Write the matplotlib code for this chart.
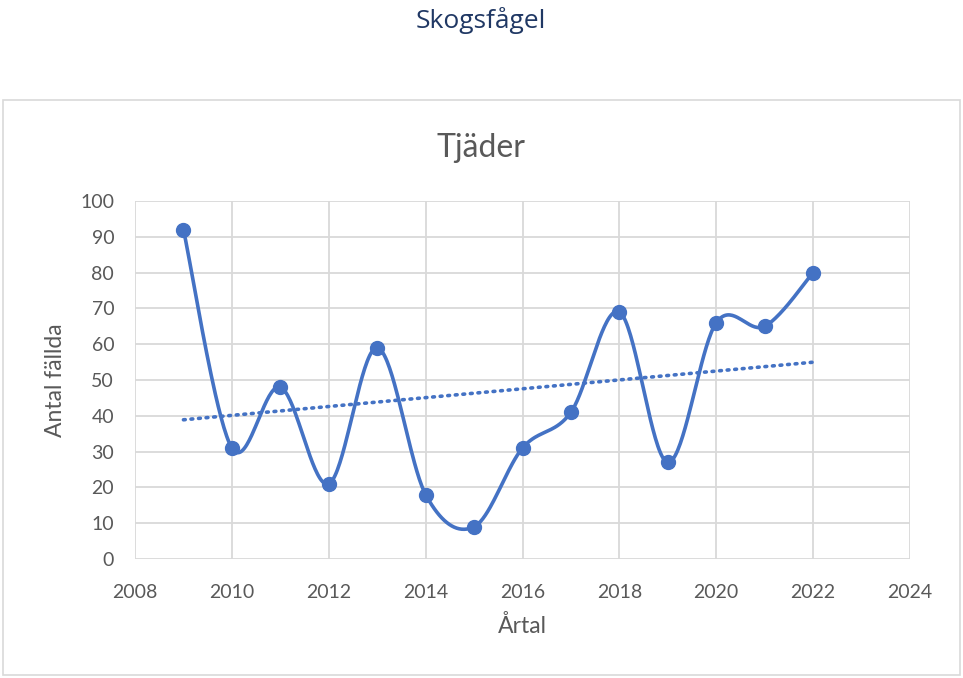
import matplotlib
matplotlib.use("Agg")
import matplotlib.pyplot as plt
import numpy as np
from matplotlib.patches import Rectangle

# data
years = [2009, 2010, 2011, 2012, 2013, 2014, 2015, 2016, 2017, 2018, 2019, 2020, 2021, 2022]
antal = [92, 31, 48, 21, 59, 18, 9, 31, 41, 69, 27, 66, 65, 80]
x_ticks = [2008, 2010, 2012, 2014, 2016, 2018, 2020, 2022, 2024]
y_ticks = [0, 10, 20, 30, 40, 50, 60, 70, 80, 90, 100]

blue = "#4472C4"
grey_txt = "#595959"
grid_col = "#D9D9D9"

plt.rcParams['font.family'] = ['Lato', 'DejaVu Sans']


# Excel-like smoothed line: cubic bezier through the points (Catmull-Rom style)
def smooth(xs, ys, n=40):
    p = np.column_stack([xs, ys]).astype(float)
    out = []
    for i in range(len(p) - 1):
        p0 = p[i - 1] if i > 0 else p[i]
        p1, p2 = p[i], p[i + 1]
        p3 = p[i + 2] if i + 2 < len(p) else p[i + 1]
        c1 = p1 + (p2 - p0) / 6
        c2 = p2 - (p3 - p1) / 6
        t = np.linspace(0, 1, n)[:, None]
        seg = ((1 - t) ** 3) * p1 + 3 * ((1 - t) ** 2) * t * c1 + 3 * (1 - t) * t ** 2 * c2 + t ** 3 * p2
        out.append(seg if i == 0 else seg[1:])
    out = np.vstack(out)
    return out[:, 0], out[:, 1]


fig = plt.figure(figsize=(9.63, 6.78), dpi=100)
W, H = 963, 678

# outer chart border
fig.patches.append(Rectangle((3 / W, 1 - 675 / H), 957 / W, 575 / H, transform=fig.transFigure,
                             fill=False, edgecolor=grid_col, linewidth=1.2))

fig.text(481 / W, 1 - 20 / H, "Skogsfågel", ha="center", va="center",
         fontsize=19, color="#203864", family=['Open Sans', 'DejaVu Sans'])
fig.text(481 / W, 1 - 148 / H, "Tjäder", ha="center", va="center", fontsize=23, color=grey_txt)

ax = fig.add_axes([135 / W, 1 - 559 / H, 775 / W, 358 / H])

sx, sy = smooth(years, antal)
ax.plot(sx, sy, color=blue, linewidth=2.6, zorder=3)
ax.plot(years, antal, linestyle="none", marker="o", markersize=10, color=blue, zorder=4)

# linear trend line
k, m = np.polyfit(years, antal, 1)
tx = np.array([years[0], years[-1]])
ax.plot(tx, k * tx + m, color=blue, linewidth=2.6, linestyle=(0, (0.5, 1.6)),
        dash_capstyle="round", zorder=5)

ax.set_xlim(2008, 2024)
ax.set_ylim(0, 100)
ax.set_xticks(x_ticks)
ax.set_yticks(y_ticks)
ax.grid(True, color=grid_col, linewidth=1.3)
ax.set_axisbelow(True)
for s in ax.spines.values():
    s.set_visible(False)
ax.tick_params(length=0, labelsize=14, labelcolor=grey_txt)
ax.tick_params(axis="y", pad=15)
ax.tick_params(axis="x", pad=18)

ax.set_xlabel("Årtal", fontsize=16.5, color=grey_txt, labelpad=10)
ax.set_ylabel("Antal fällda", fontsize=16.5, color=grey_txt, labelpad=10)

fig.savefig("out.png", dpi=100)
